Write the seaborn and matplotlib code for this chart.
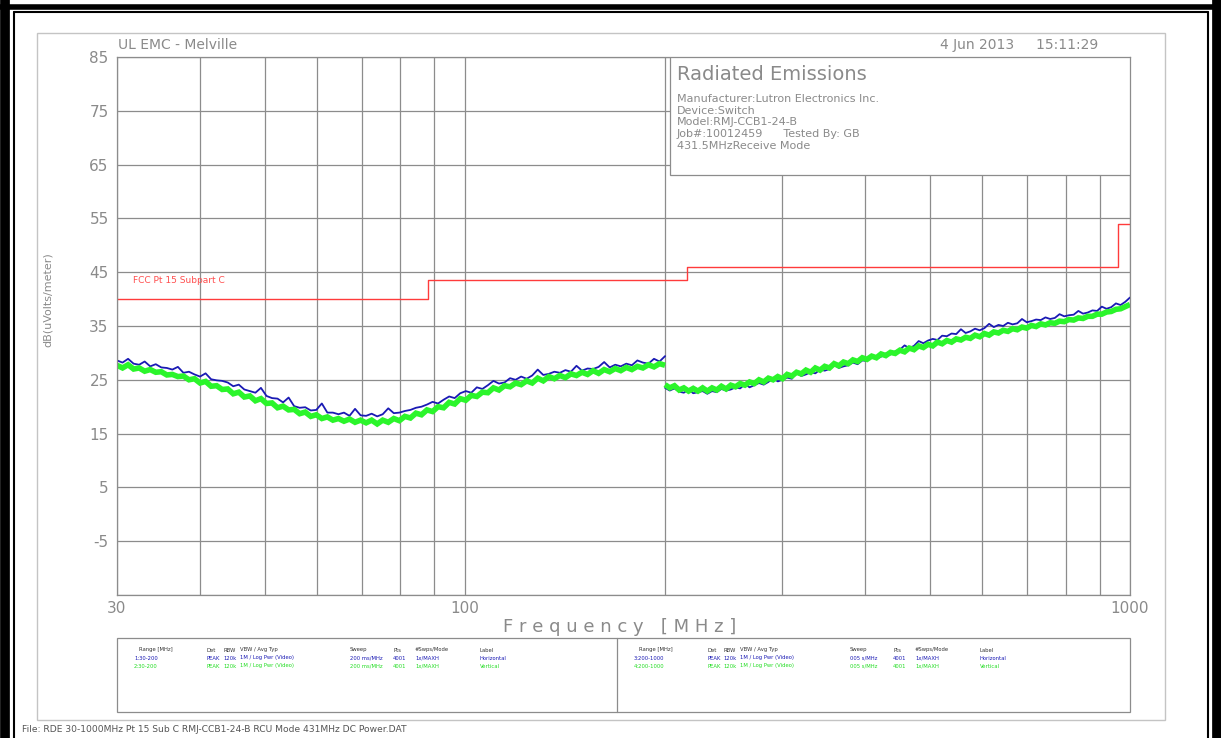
import numpy as np
import pandas as pd
import matplotlib
matplotlib.use("Agg")
import matplotlib.pyplot as plt
from matplotlib.patches import Rectangle
from matplotlib.lines import Line2D
import seaborn as sns

# ---------------- data ----------------
seg1_start, seg1_stop = 30, 200
seg2_start, seg2_stop = 200, 1000
n_pts = 100

blue_seg1 = [28.6, 28.2, 28.9, 28.0, 27.8, 28.4, 27.5, 27.9, 27.3, 27.2,
             26.9, 27.4, 26.3, 26.5, 26.0, 25.6, 26.2, 25.1, 24.9, 24.8,
             24.5, 23.8, 24.1, 23.2, 22.9, 22.6, 23.5, 22.0, 21.6, 21.5,
             20.8, 21.7, 20.1, 19.8, 19.9, 19.3, 19.4, 20.6, 18.9, 18.9,
             18.6, 18.9, 18.3, 19.6, 18.4, 18.3, 18.7, 18.2, 18.6, 19.7,
             18.8, 18.9, 19.2, 19.4, 19.8, 20.0, 20.4, 20.9, 20.6, 21.3,
             21.9, 21.6, 22.5, 22.9, 22.6, 23.6, 23.3, 24.0, 24.8, 24.3,
             24.5, 25.3, 25.0, 25.6, 25.2, 25.8, 26.9, 25.9, 26.1, 26.5,
             26.3, 26.8, 26.5, 27.6, 26.7, 27.1, 27.0, 27.4, 28.3, 27.3,
             27.8, 27.5, 28.0, 27.7, 28.6, 28.2, 28.0, 28.9, 28.4, 29.4]
green_seg1 = [27.7, 27.2, 27.8, 27.0, 27.2, 26.6, 26.9, 26.4, 26.5, 25.9,
              26.0, 25.6, 25.7, 25.0, 25.2, 24.4, 24.7, 23.8, 23.9, 23.2,
              23.3, 22.4, 22.7, 21.8, 22.0, 21.1, 21.5, 20.6, 20.7, 19.8,
              20.1, 19.4, 19.5, 18.7, 19.0, 18.2, 18.5, 17.8, 18.1, 17.5,
              17.8, 17.3, 17.7, 17.1, 17.5, 17.0, 17.5, 16.8, 17.5, 17.1,
              17.8, 17.4, 18.2, 17.9, 18.8, 18.5, 19.4, 19.1, 20.0, 19.8,
              20.8, 20.5, 21.5, 21.2, 22.1, 21.9, 22.7, 22.6, 23.5, 23.1,
              23.9, 23.7, 24.4, 24.1, 24.8, 24.4, 25.3, 24.8, 25.6, 25.2,
              25.8, 25.4, 26.1, 25.8, 26.4, 26.0, 26.7, 26.2, 26.9, 26.5,
              27.1, 26.7, 27.3, 26.9, 27.5, 27.2, 27.8, 27.4, 28.0, 27.7]
blue_seg2 = [23.5, 23.0, 23.4, 22.8, 22.6, 23.2, 22.5, 22.7, 22.9, 22.4,
             22.9, 22.7, 23.3, 23.0, 23.2, 23.6, 23.4, 24.2, 23.6, 24.0,
             24.4, 24.1, 24.6, 25.3, 24.7, 25.0, 25.4, 25.2, 26.3, 25.7,
             26.0, 26.4, 26.2, 26.9, 26.7, 27.0, 27.8, 27.2, 27.5, 27.7,
             28.2, 27.9, 28.6, 28.5, 29.4, 28.9, 29.3, 29.9, 29.7, 30.3,
             30.6, 31.4, 30.9, 31.3, 32.2, 31.8, 32.3, 32.6, 32.4, 33.2,
             33.1, 33.6, 33.5, 34.4, 33.7, 34.0, 34.5, 34.2, 34.6, 35.4,
             34.8, 35.2, 35.0, 35.6, 35.3, 35.5, 36.3, 35.7, 35.9, 36.2,
             36.1, 36.6, 36.3, 36.5, 37.2, 36.8, 37.0, 37.1, 37.8, 37.3,
             37.5, 37.9, 37.8, 38.6, 38.2, 38.5, 39.2, 38.9, 39.5, 40.3]
green_seg2 = [24.1, 23.5, 23.9, 23.1, 23.5, 22.9, 23.4, 22.9, 23.5, 22.9,
              23.5, 23.1, 23.8, 23.3, 24.0, 23.7, 24.3, 24.0, 24.6, 24.3,
              25.0, 24.6, 25.3, 25.0, 25.6, 25.2, 26.0, 25.7, 26.4, 26.1,
              26.8, 26.4, 27.2, 26.8, 27.5, 27.2, 28.0, 27.6, 28.3, 28.0,
              28.7, 28.4, 29.1, 28.8, 29.4, 29.1, 29.8, 29.5, 30.1, 29.9,
              30.5, 30.2, 30.9, 30.6, 31.3, 31.0, 31.6, 31.3, 32.0, 31.7,
              32.3, 32.0, 32.6, 32.4, 32.9, 32.7, 33.3, 33.0, 33.6, 33.3,
              33.9, 33.7, 34.2, 34.0, 34.5, 34.3, 34.8, 34.6, 35.1, 34.9,
              35.4, 35.2, 35.6, 35.5, 35.9, 35.8, 36.2, 36.1, 36.5, 36.4,
              36.8, 36.8, 37.2, 37.2, 37.6, 37.7, 38.1, 38.2, 38.6, 39.0]

limit_freqs = [30, 88, 216, 960, 1000]
limit_levels = [40, 43.5, 46, 54, 54]

y_ticks = [85, 75, 65, 55, 45, 35, 25, 15, 5, -5, -15]
y_tick_labels = ["85", "75", "65", "55", "45", "35", "25", "15", "5", "-5", ""]
x_major = [30, 100, 1000]
x_major_labels = ["30", "100", "1000"]
x_minor = [40, 50, 60, 70, 80, 90, 200, 300, 400, 500, 600, 700, 800, 900]

info_lines = ["Manufacturer:Lutron Electronics Inc.",
              "Device:Switch",
              "Model:RMJ-CCB1-24-B",
              "Job#:10012459      Tested By: GB",
              "431.5MHzReceive Mode"]

table_cols = ["Range [MHz]", "Det", "RBW", "VBW / Avg Typ", "Sweep", "Pts", "#Swps/Mode", "Label"]
table_rows_left = [["1:30-200", "PEAK", "120k", "1M / Log Pwr (Video)", "200 ms/MHz", "4001", "1x/MAXH", "Horizontal"],
                   ["2:30-200", "PEAK", "120k", "1M / Log Pwr (Video)", "200 ms/MHz", "4001", "1x/MAXH", "Vertical"]]
table_rows_right = [["3:200-1000", "PEAK", "120k", "1M / Log Pwr (Video)", "005 s/MHz", "4001", "1x/MAXH", "Horizontal"],
                    ["4:200-1000", "PEAK", "120k", "1M / Log Pwr (Video)", "005 s/MHz", "4001", "1x/MAXH", "Vertical"]]

# ---------------- build table for seaborn ----------------
f1 = np.geomspace(seg1_start, seg1_stop, n_pts)
f2 = np.geomspace(seg2_start, seg2_stop, n_pts)
frames = []
for name, f, vals, seg in [("Horizontal", f1, blue_seg1, 1), ("Vertical", f1, green_seg1, 1),
                           ("Horizontal", f2, blue_seg2, 2), ("Vertical", f2, green_seg2, 2)]:
    frames.append(pd.DataFrame({"freq": f, "level": vals, "pol": name, "seg": seg}))
df = pd.concat(frames, ignore_index=True)

# ---------------- figure ----------------
sns.set_style("white")
plt.rcParams["font.family"] = ["DejaVu Sans"]
W, H = 1221, 738
fig = plt.figure(figsize=(W / 100, H / 100), dpi=100)

def fx(px):
    return px / W

def fy(py):
    return 1 - py / H

ax = fig.add_axes([fx(117), fy(595), fx(1130) - fx(117), fy(57) - fy(595)])
ax.set_xscale("log")
ax.set_xlim(30, 1000)
ax.set_ylim(-15, 85)

grid_c = "#8c8c8c"
txt_c = "#8a8a8a"

ax.set_xticks(x_major)
ax.set_xticklabels(x_major_labels)
ax.set_xticks(x_minor, minor=True)
ax.set_xticklabels([], minor=True)
ax.set_yticks(y_ticks)
ax.set_yticklabels(y_tick_labels)
ax.tick_params(axis="both", which="both", length=0, colors=txt_c)
ax.tick_params(axis="x", labelsize=11, pad=4)
ax.tick_params(axis="y", labelsize=11, pad=6)
ax.grid(True, which="both", color=grid_c, linewidth=0.9)
ax.set_axisbelow(True)
for s in ax.spines.values():
    s.set_color(grid_c)
    s.set_linewidth(0.9)

# traces
blue_c = "#1a1ab4"
green_c = "#2bf52b"
for seg in (1, 2):
    sub = df[(df.seg == seg) & (df.pol == "Horizontal")]
    sns.lineplot(data=sub, x="freq", y="level", ax=ax, color=blue_c, linewidth=1.3,
                 estimator=None, sort=False, legend=False, zorder=2)
    sub = df[(df.seg == seg) & (df.pol == "Vertical")]
    sns.lineplot(data=sub, x="freq", y="level", ax=ax, color=green_c, linewidth=4.0,
                 estimator=None, sort=False, legend=False, zorder=2.1,
                 solid_joinstyle="miter", solid_capstyle="butt")

# limit line
ax.step(limit_freqs, limit_levels, where="post", color="#ff3b3b", linewidth=1.0, zorder=2.5)
ax.text(0.016, 0.585, "FCC Pt 15 Subpart C", transform=ax.transAxes, color="#ff4d4d",
        fontsize=6.5, va="center", ha="left")

ax.set_xlabel("")
ax.set_ylabel("")

# info box
ax.add_patch(Rectangle((0.546, 0.781), 0.454, 0.219, transform=ax.transAxes,
                       facecolor="white", edgecolor=grid_c, linewidth=0.9, zorder=3))
fig.text(fx(677), fy(75), "Radiated Emissions", fontsize=14, color=txt_c, va="center", ha="left")
for i, line in enumerate(info_lines):
    fig.text(fx(677), fy(99 + i * 11.7), line, fontsize=8.0, color=txt_c, va="center", ha="left")

# header texts
fig.text(fx(118), fy(45), "UL EMC - Melville", fontsize=10, color=txt_c, va="center", ha="left")
fig.text(fx(1098), fy(45), "4 Jun 2013     15:11:29", fontsize=10, color=txt_c, va="center", ha="right")

# axis labels
fig.text(fx(620), fy(627), "F r e q u e n c y   [ M H z ]", fontsize=13, color=txt_c, va="center", ha="center")
fig.text(fx(48), fy(300), "dB(uVolts/meter)", fontsize=8, color=txt_c, va="center", ha="center", rotation=90)

# table
fig.patches.append(Rectangle((fx(117), fy(712)), fx(1130) - fx(117), fy(638) - fy(712),
                             transform=fig.transFigure, facecolor="none", edgecolor=grid_c, linewidth=0.9))
fig.lines.append(Line2D([fx(617), fx(617)], [fy(638), fy(712)], transform=fig.transFigure,
                        color=grid_c, linewidth=0.9))
col_x = [139, 207, 223, 240, 350, 393, 415, 480]
row_c = [blue_c, "#22dd22"]
for off, rows in [(0, table_rows_left), (500, table_rows_right)]:
    for cx, col in zip(col_x, table_cols):
        fig.text(fx(cx + off), fy(650), col, fontsize=3.8, color="#333333", va="center", ha="left")
    for r, row in enumerate(rows):
        for ci, (cx, val) in enumerate(zip(col_x, row)):
            xx = cx - 5 if ci == 0 else cx
            fig.text(fx(xx + off), fy(658 + r * 8), val, fontsize=3.8, color=row_c[r], va="center", ha="left")

# footer
fig.text(fx(22), fy(729), "File: RDE 30-1000MHz Pt 15 Sub C RMJ-CCB1-24-B RCU Mode 431MHz DC Power.DAT",
         fontsize=6.6, color="#555555", va="center", ha="left")

# frames
fig.patches.append(Rectangle((fx(37), fy(720)), fx(1165) - fx(37), fy(33) - fy(720),
                             transform=fig.transFigure, facecolor="none", edgecolor="#c4c4c4", linewidth=1.0))
for xs, ys, lw in [([fx(4.5), fx(4.5)], [0, 1], 7),
                   ([fx(1216.5), fx(1216.5)], [0, 1], 7),
                   ([0, 1], [fy(6.5), fy(6.5)], 4),
                   ([fx(13.5), fx(13.5)], [0, fy(12)], 1.5),
                   ([fx(1208), fx(1208)], [0, fy(12)], 1.5),
                   ([fx(13.5), fx(1208)], [fy(12), fy(12)], 1.5)]:
    fig.lines.append(Line2D(xs, ys, transform=fig.transFigure, color="black", linewidth=lw))

fig.savefig("out.png", dpi=100, facecolor="white")
